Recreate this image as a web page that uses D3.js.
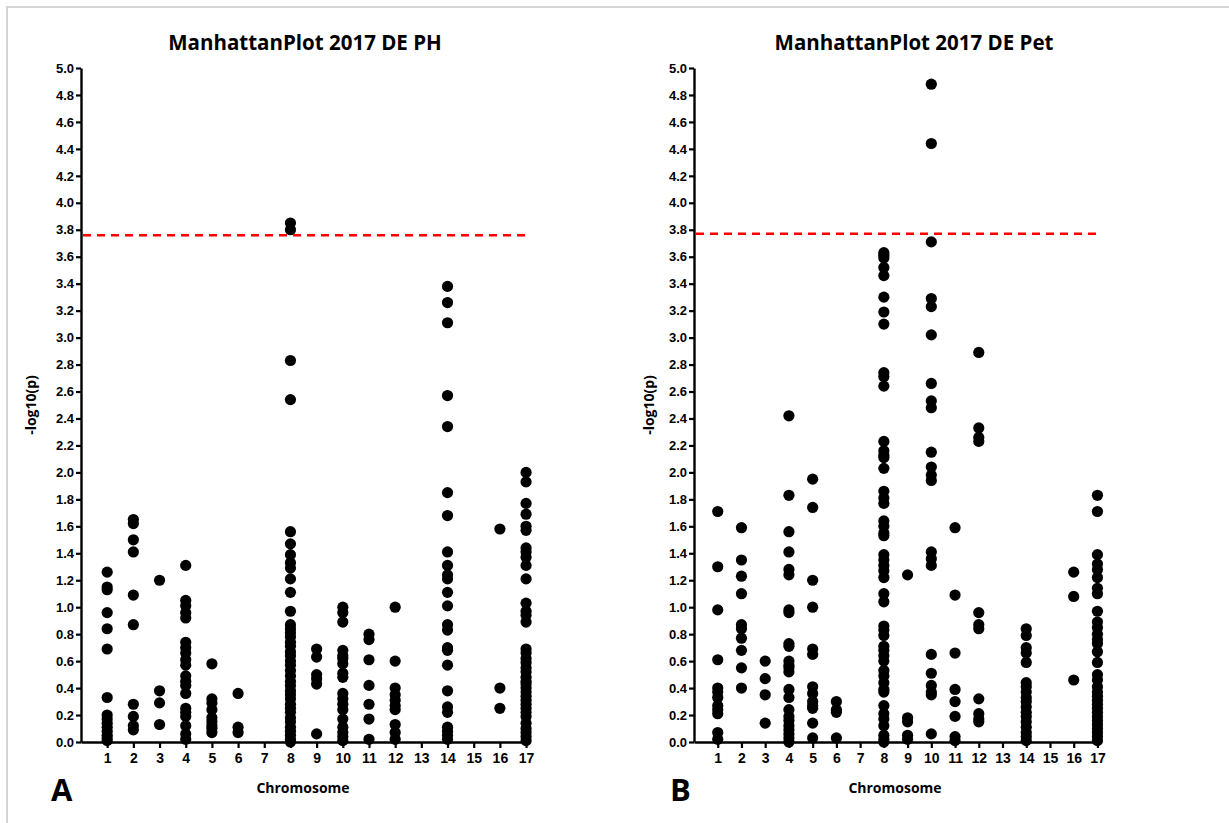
<!DOCTYPE html>
<html>
<head>
<meta charset="utf-8">
<script src="https://cdn.jsdelivr.net/npm/d3@7"></script>
<style>
  body { margin: 0; background: #fff; }
  svg { display: block; }
</style>
</head>
<body>
<div id="fig"></div>
<script>
// chromosomes on the x axis
var chromosomes = d3.range(1, 18);
var yTicks = d3.range(0, 5.01, 0.2);

// -log10(p) values per chromosome, panel A (PH)
var phValues = [
  [1.26, 1.15, 1.13, 0.96, 0.84, 0.69, 0.33, 0.20, 0.17, 0.14, 0.11, 0.08, 0.05, 0.03, 0.01],
  [1.65, 1.62, 1.50, 1.41, 1.09, 0.87, 0.28, 0.19, 0.12, 0.09],
  [1.20, 0.38, 0.29, 0.13],
  [1.31, 1.05, 1.01, 0.96, 0.92, 0.74, 0.70, 0.66, 0.61, 0.57, 0.49, 0.45, 0.42, 0.36, 0.25, 0.22, 0.19, 0.12, 0.06, 0.02],
  [0.58, 0.32, 0.29, 0.24, 0.18, 0.15, 0.12, 0.10, 0.07],
  [0.36, 0.11, 0.07],
  [],
  [3.85, 3.80, 2.83, 2.54, 1.56, 1.47, 1.39, 1.33, 1.29, 1.21, 1.11, 0.97, 0.87, 0.84, 0.81, 0.78, 0.74, 0.71, 0.67, 0.64, 0.60, 0.57, 0.53, 0.49, 0.45, 0.42, 0.38, 0.35, 0.32, 0.28, 0.25, 0.22, 0.18, 0.15, 0.11, 0.08, 0.05, 0.02, 0.00],
  [0.69, 0.63, 0.50, 0.47, 0.43, 0.06],
  [1.00, 0.96, 0.89, 0.68, 0.64, 0.62, 0.58, 0.51, 0.48, 0.36, 0.32, 0.28, 0.24, 0.17, 0.11, 0.07, 0.04, 0.01],
  [0.80, 0.76, 0.61, 0.42, 0.28, 0.17, 0.02],
  [1.00, 0.60, 0.40, 0.35, 0.31, 0.27, 0.24, 0.13, 0.07, 0.02],
  [],
  [3.38, 3.26, 3.11, 2.57, 2.34, 1.85, 1.68, 1.41, 1.31, 1.24, 1.21, 1.11, 1.01, 0.87, 0.83, 0.70, 0.68, 0.57, 0.38, 0.26, 0.22, 0.11, 0.08, 0.05, 0.02],
  [],
  [1.58, 0.40, 0.25],
  [2.00, 1.93, 1.77, 1.69, 1.60, 1.57, 1.44, 1.41, 1.37, 1.31, 1.21, 1.03, 0.97, 0.94, 0.89, 0.69, 0.66, 0.62, 0.59, 0.55, 0.52, 0.48, 0.45, 0.43, 0.40, 0.37, 0.34, 0.31, 0.28, 0.25, 0.22, 0.19, 0.14, 0.10, 0.07, 0.04, 0.01]
];

// -log10(p) values per chromosome, panel B (Pet)
var petValues = [
  [1.71, 1.30, 0.98, 0.61, 0.40, 0.37, 0.33, 0.27, 0.24, 0.21, 0.07, 0.02],
  [1.59, 1.35, 1.23, 1.10, 0.87, 0.84, 0.77, 0.68, 0.55, 0.40],
  [0.60, 0.47, 0.35, 0.14],
  [2.42, 1.83, 1.56, 1.41, 1.28, 1.24, 0.98, 0.96, 0.73, 0.71, 0.60, 0.57, 0.55, 0.52, 0.39, 0.33, 0.24, 0.19, 0.16, 0.12, 0.09, 0.06, 0.03, 0.00],
  [1.95, 1.74, 1.20, 1.00, 0.69, 0.65, 0.41, 0.36, 0.30, 0.27, 0.25, 0.14, 0.03],
  [0.30, 0.24, 0.22, 0.03],
  [],
  [3.63, 3.61, 3.59, 3.52, 3.46, 3.30, 3.19, 3.10, 2.74, 2.71, 2.64, 2.23, 2.16, 2.13, 2.11, 2.03, 1.86, 1.81, 1.77, 1.64, 1.60, 1.55, 1.53, 1.39, 1.35, 1.31, 1.27, 1.22, 1.10, 1.04, 0.86, 0.83, 0.79, 0.71, 0.68, 0.64, 0.60, 0.53, 0.49, 0.44, 0.39, 0.37, 0.27, 0.21, 0.17, 0.12, 0.05, 0.02, 0.00],
  [1.24, 0.18, 0.15, 0.05, 0.02],
  [4.88, 4.44, 3.71, 3.29, 3.23, 3.02, 2.66, 2.53, 2.48, 2.15, 2.04, 1.98, 1.94, 1.41, 1.36, 1.31, 0.65, 0.51, 0.42, 0.37, 0.35, 0.06],
  [1.59, 1.09, 0.66, 0.39, 0.30, 0.19, 0.04, 0.01],
  [2.89, 2.33, 2.26, 2.23, 0.96, 0.87, 0.84, 0.32, 0.21, 0.17, 0.15],
  [],
  [0.84, 0.79, 0.70, 0.66, 0.59, 0.44, 0.41, 0.37, 0.33, 0.30, 0.26, 0.22, 0.19, 0.15, 0.11, 0.07, 0.04, 0.01],
  [],
  [1.26, 1.08, 0.46],
  [1.83, 1.71, 1.39, 1.32, 1.28, 1.22, 1.14, 1.10, 0.97, 0.89, 0.85, 0.80, 0.76, 0.73, 0.67, 0.59, 0.50, 0.46, 0.41, 0.37, 0.34, 0.31, 0.28, 0.25, 0.22, 0.19, 0.16, 0.13, 0.10, 0.07, 0.04, 0.01]
];

var titles = ["ManhattanPlot 2017 DE PH", "ManhattanPlot 2017 DE Pet"];
var thresholds = [3.76, 3.77];
var letters = ["A", "B"];

var W = 1229, H = 823;
var svg = d3.select("#fig").append("svg")
  .attr("width", W)
  .attr("height", H);

// light grey frame lines at top and left
svg.append("line").attr("x1", 6).attr("x2", W).attr("y1", 7).attr("y2", 7)
  .attr("stroke", "#d4d4d4").attr("stroke-width", 2);
svg.append("line").attr("x1", 7).attr("x2", 7).attr("y1", 6).attr("y2", H)
  .attr("stroke", "#d4d4d4").attr("stroke-width", 2);

var panels = [
  { left: 81, right: 530, values: phValues, title: titles[0], thr: thresholds[0], letter: letters[0], titleX: 305, ylabX: 36, xlabX: 303, letterX: 51 },
  { left: 694, right: 1101, values: petValues, title: titles[1], thr: thresholds[1], letter: letters[1], titleX: 914, ylabX: 654, xlabX: 895, letterX: 670 }
];

var plotTop = 68, plotBottom = 742;

panels.forEach(function(p) {
  var x = d3.scaleLinear().domain([0, 17.15]).range([p.left, p.right]);
  var y = d3.scaleLinear().domain([0, 5]).range([plotBottom, plotTop]);
  var g = svg.append("g");

  // title
  g.append("text")
    .attr("x", p.titleX).attr("y", 50)
    .attr("text-anchor", "middle")
    .style("font-family", "'Open Sans', sans-serif")
    .style("font-weight", "bold")
    .style("font-size", "20.5px")
    .text(p.title);

  // y axis
  var yAxis = d3.axisLeft(y).tickValues(yTicks).tickFormat(d3.format(".1f")).tickSize(5).tickPadding(2).tickSizeOuter(0);
  var ya = g.append("g").attr("transform", "translate(" + p.left + ",0)").call(yAxis);
  ya.select(".domain").attr("stroke-width", 2.4);
  ya.selectAll(".tick line").attr("stroke-width", 2.2);
  ya.selectAll("text")
    .style("font-family", "'Liberation Sans', Arial, sans-serif")
    .style("font-weight", "bold")
    .style("font-size", "13px")
    .attr("fill", "#000");

  // x axis
  var xAxis = d3.axisBottom(x).tickValues(chromosomes).tickSize(6).tickPadding(5).tickSizeOuter(0);
  var xa = g.append("g").attr("transform", "translate(0," + plotBottom + ")").call(xAxis);
  xa.select(".domain").attr("stroke-width", 2.4);
  xa.selectAll(".tick line").attr("stroke-width", 2.2);
  xa.selectAll("text")
    .style("font-family", "'Liberation Sans', Arial, sans-serif")
    .style("font-weight", "bold")
    .style("font-size", "14px")
    .attr("fill", "#000");

  // axis titles
  g.append("text")
    .attr("transform", "translate(" + p.ylabX + "," + 405 + ") rotate(-90)")
    .attr("text-anchor", "middle")
    .style("font-family", "'Open Sans', sans-serif")
    .style("font-weight", "bold")
    .style("font-size", "14px")
    .text("-log10(p)");

  g.append("text")
    .attr("x", p.xlabX).attr("y", 793)
    .attr("text-anchor", "middle")
    .style("font-family", "'Open Sans', sans-serif")
    .style("font-weight", "bold")
    .style("font-size", "14px")
    .text("Chromosome");

  // panel letter
  g.append("text")
    .attr("x", p.letterX).attr("y", 801)
    .style("font-family", "'Open Sans', sans-serif")
    .style("font-weight", "bold")
    .style("font-size", "31px")
    .text(p.letter);

  // points
  var pts = [];
  p.values.forEach(function(vals, i) {
    vals.forEach(function(v) { pts.push({ chr: chromosomes[i], v: v }); });
  });
  g.selectAll("circle.pt")
    .data(pts)
    .enter()
    .append("circle")
    .attr("class", "pt")
    .attr("cx", function(d) { return x(d.chr); })
    .attr("cy", function(d) { return y(d.v); })
    .attr("r", 5.6)
    .attr("fill", "#000");

  // significance threshold
  g.append("line")
    .attr("x1", p.left + 2).attr("x2", p.right)
    .attr("y1", y(p.thr)).attr("y2", y(p.thr))
    .attr("stroke", "#ff0000")
    .attr("stroke-width", 2.5)
    .attr("stroke-dasharray", "8,6");
});
</script>
</body>
</html>
